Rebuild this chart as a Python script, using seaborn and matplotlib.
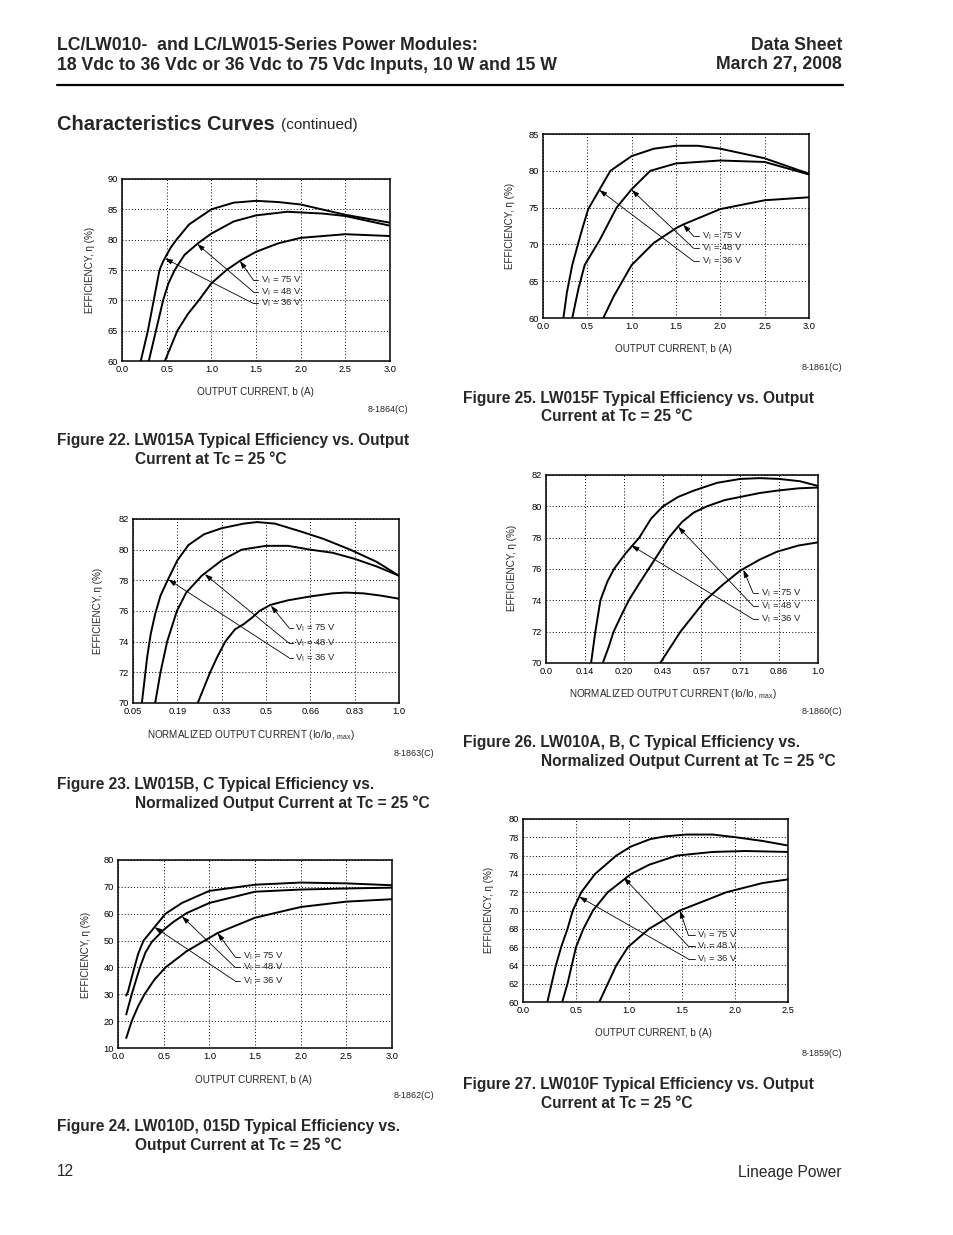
import matplotlib
matplotlib.use("Agg")
import matplotlib.pyplot as plt
import seaborn as sns
import pandas as pd
from matplotlib import font_manager

W, H = 954, 1235

# ---------------- values ----------------
volt_labels = ["75 V", "48 V", "36 V"]

# Figure 22 - LW015A, output current (A)
f22_x75 = [0.48, 0.55, 0.62, 0.74, 0.86, 1.0, 1.17, 1.33, 1.5, 1.75, 2.0, 2.5, 3.0]
f22_y75 = [60, 62.5, 65, 67.8, 70, 72.8, 75, 76.6, 78, 79.4, 80.3, 80.9, 80.6]
f22_x48 = [0.3, 0.38, 0.46, 0.52, 0.59, 0.7, 0.85, 1.0, 1.25, 1.5, 1.85, 2.25, 2.5, 3.0]
f22_y48 = [60, 65, 70, 72.8, 75, 77.5, 79.4, 81, 83, 84, 84.6, 84.3, 83.9, 82.3]
f22_x36 = [0.21, 0.29, 0.355, 0.42, 0.46, 0.5, 0.55, 0.61, 0.75, 1.0, 1.25, 1.5, 1.75, 2.0, 2.5, 3.0]
f22_y36 = [60, 65, 70, 75, 76.4, 77.5, 78.8, 80, 82.5, 85, 86.1, 86.4, 86.2, 85.8, 84.1, 82.8]

# Figure 25 - LW015F, output current (A)
f25_x75 = [0.68, 0.8, 1.0, 1.25, 1.5, 1.58, 2.0, 2.5, 3.0]
f25_y75 = [60, 63, 67.2, 70.2, 72.2, 72.7, 74.8, 76, 76.4]
f25_x48 = [0.33, 0.4, 0.47, 0.55, 0.64, 0.83, 1.0, 1.21, 1.5, 2.0, 2.5, 3.0]
f25_y48 = [60, 64, 67.2, 68.8, 70.6, 75, 77.5, 80, 81, 81.4, 81.2, 79.5]
f25_x36 = [0.23, 0.27, 0.33, 0.38, 0.44, 0.51, 0.635, 0.76, 1.0, 1.25, 1.5, 1.75, 2.0, 2.5, 3.0]
f25_y36 = [60, 63.5, 67.2, 69.4, 72, 74.8, 77.4, 80, 82, 83, 83.4, 83.4, 83, 81.7, 79.6]

# Figure 23 - LW015B, C, position along the normalized current axis
f23_ticks = ["0.05", "0.19", "0.33", "0.5", "0.66", "0.83", "1.0"]
f23_x75 = [1.46, 1.6, 1.74, 1.9, 2.08, 2.3, 2.5, 2.7, 2.85, 3.1, 3.5, 4.0, 4.5, 4.8, 5.2, 5.6, 6.0]
f23_y75 = [70, 71, 72, 73, 74, 74.8, 75.15, 75.6, 76, 76.4, 76.7, 76.95, 77.15, 77.2, 77.15, 77.0, 76.8]
f23_x48 = [0.5, 0.62, 0.77, 0.99, 1.2, 1.55, 2.0, 2.45, 3.0, 3.5, 4.0, 4.5, 5.0, 5.5, 6.0]
f23_y48 = [70, 72, 74, 76, 77.2, 78.3, 79.3, 80, 80.25, 80.25, 80.0, 79.8, 79.4, 78.9, 78.3]
f23_x36 = [0.2, 0.26, 0.32, 0.4, 0.5, 0.62, 0.78, 1.0, 1.25, 1.6, 2.0, 2.5, 2.8, 3.2, 3.77, 4.3, 4.9, 5.5, 6.0]
f23_y36 = [70, 71.5, 73, 74.5, 75.8, 77, 78, 79.3, 80.3, 81, 81.4, 81.7, 81.8, 81.7, 81.2, 80.7, 80, 79.2, 78.3]

# Figure 26 - LW010A, B, C, position along the normalized current axis
f26_ticks = ["0.0", "0.14", "0.20", "0.43", "0.57", "0.71", "0.86", "1.0"]
f26_x75 = [2.94, 3.2, 3.46, 3.78, 4.1, 4.55, 5.0, 5.5, 5.94, 6.5, 7.0]
f26_y75 = [70, 71, 72, 73, 74, 75, 75.9, 76.6, 77.1, 77.5, 77.7]
f26_x48 = [1.46, 1.61, 1.74, 1.93, 2.13, 2.38, 2.64, 2.9, 3.16, 3.5, 3.8, 4.14, 4.6, 5.0, 5.5, 5.94, 6.5, 7.0]
f26_y48 = [70, 71, 72, 73, 74, 75, 76, 77, 78, 79, 79.6, 80, 80.4, 80.6, 80.85, 81, 81.15, 81.2]
f26_x36 = [1.16, 1.27, 1.4, 1.58, 1.75, 2.05, 2.4, 2.7, 3.01, 3.4, 3.8, 4.4, 5.0, 5.5, 6.0, 6.54, 7.0]
f26_y36 = [70, 72, 74, 75.2, 76, 77, 78, 79.2, 80, 80.6, 81, 81.5, 81.75, 81.8, 81.75, 81.6, 81.3]

# Figure 24 - LW010D, 015D, output current (A)
f24_x75 = [0.09, 0.15, 0.22, 0.29, 0.4, 0.52, 0.75, 0.95, 1.09, 1.5, 2.0, 2.5, 3.0]
f24_y75 = [13.7, 20, 25.5, 30, 35.5, 40, 46, 50, 52.8, 58.5, 62.5, 64.5, 65.4]
f24_x48 = [0.09, 0.15, 0.24, 0.3, 0.37, 0.5, 0.6, 0.75, 1.0, 1.5, 2.0, 2.5, 3.0]
f24_y48 = [22.5, 30, 40, 45.5, 49.5, 54, 56.8, 60.2, 64, 68.2, 69, 69.4, 69.7]
f24_x36 = [0.09, 0.11, 0.14, 0.18, 0.22, 0.28, 0.4, 0.52, 0.7, 1.0, 1.5, 2.0, 2.5, 3.0]
f24_y36 = [29.5, 31, 35, 40, 45, 50, 55, 60, 64, 68.5, 70.8, 71.6, 71.3, 70.6]

# Figure 27 - LW010F, output current (A)
f27_x75 = [0.72, 0.8, 0.88, 0.99, 1.19, 1.48, 1.92, 2.26, 2.5]
f27_y75 = [60, 62, 64, 66, 68, 70, 72, 73, 73.4]
f27_x48 = [0.37, 0.42, 0.46, 0.5, 0.57, 0.66, 0.8, 1.02, 1.19, 1.45, 1.79, 2.1, 2.5]
f27_y48 = [60, 62, 64, 66, 68, 70, 72, 74, 75, 76, 76.4, 76.5, 76.4]
f27_x36 = [0.23, 0.27, 0.31, 0.36, 0.42, 0.47, 0.55, 0.68, 0.88, 1.02, 1.2, 1.34, 1.54, 1.79, 2.01, 2.26, 2.5]
f27_y36 = [60, 62, 64, 66, 68, 70, 72, 74, 76, 77, 77.8, 78.1, 78.3, 78.3, 78.0, 77.6, 77.1]

# callout arrow tips (75 V, 48 V, 36 V) and label rows
f22_tips = [(1.32, 76.5), (0.84, 79.3), (0.48, 76.9)]
f22_label_y = [73.35, 71.4, 69.5]
f25_tips = [(1.58, 72.7), (1.0, 77.4), (0.635, 77.4)]
f25_label_y = [71.1, 69.45, 67.7]
f23_tips = [(3.11, 76.35), (1.62, 78.4), (0.8, 78.05)]
f23_label_y = [74.9, 73.9, 72.95]
f26_tips = [(5.08, 75.95), (3.4, 78.7), (2.2, 77.5)]
f26_label_y = [74.47, 73.64, 72.8]
f24_tips = [(1.09, 52.8), (0.7, 59.0), (0.4, 55.0)]
f24_label_y = [44.0, 40.1, 35.0]
f27_tips = [(1.48, 70.0), (0.95, 73.6), (0.53, 71.5)]
f27_label_y = [67.3, 66.1, 64.7]

# ---------------- fonts ----------------
sns.set_style("white")
installed = {f.name for f in font_manager.fontManager.ttflist}
HEAD_FONT = "Liberation Sans Narrow" if "Liberation Sans Narrow" in installed else "Liberation Sans"
plt.rcParams["font.family"] = ["Liberation Sans", "DejaVu Sans"]
plt.rcParams["mathtext.fontset"] = "custom"
plt.rcParams["mathtext.rm"] = "Liberation Sans"

fig = plt.figure(figsize=(W / 100, H / 100), dpi=100)
renderer = fig.canvas.get_renderer()


def fit_size(text, width_px, family, weight="normal", base=10.0):
    t = fig.text(0, 0, text, fontsize=base, family=family, fontweight=weight)
    w = t.get_window_extent(renderer).width
    t.remove()
    return base * width_px / w


def put(x, y, text, **kw):
    return fig.text(x / W, 1 - y / H, text, **kw)


def add_panel(left, top, right, bottom):
    return fig.add_axes([left / W, 1 - bottom / H, (right - left) / W, (bottom - top) / H])


def draw_curves(ax, xs_list, ys_list):
    frames = []
    for lab, xs, ys in zip(volt_labels, xs_list, ys_list):
        frames.append(pd.DataFrame({"vin": lab, "io": xs, "eff": ys}))
    df = pd.concat(frames, ignore_index=True)
    sns.lineplot(data=df, x="io", y="eff", units="vin", estimator=None, sort=False,
                 color="black", lw=1.4, ax=ax, legend=False)


def style_axes(ax, xlim, ylim, xticks, xticklabels, yticks):
    ax.set_xlim(xlim)
    ax.set_ylim(ylim)
    ax.set_xticks(xticks)
    ax.set_xticklabels(xticklabels)
    ax.set_yticks(yticks)
    ax.grid(True, color="black", linestyle=(0, (1, 2.2)), linewidth=0.7)
    ax.tick_params(length=0, labelsize=6.7, pad=3, colors="black")
    for s in ax.spines.values():
        s.set_visible(True)
        s.set_color("black")
        s.set_linewidth(1.1)
    ax.set_xlabel("")
    ax.set_ylabel("")


def draw_callouts(ax, tips, label_ys, corner_x, text_x):
    for lab, (tx, ty), ly in zip(volt_labels, tips, label_ys):
        ax.annotate("", xy=(tx, ty), xytext=(corner_x, ly),
                    arrowprops=dict(arrowstyle="-|>,head_length=0.45,head_width=0.15",
                                    color="black", lw=0.6, shrinkA=0, shrinkB=0))
        ax.plot([corner_x, text_x], [ly, ly], color="black", lw=0.6)
        ax.annotate("V$_\\mathregular{I}$ = " + lab, xy=(text_x, ly), xytext=(2, 0),
                    textcoords="offset points", va="center", ha="left", fontsize=6.8)


ax_label_size = fit_size("OUTPUT CURRENT, b (A)", 117, "Liberation Sans")
code_size = ax_label_size * 0.92


def labels(xl, xl_pos, yl_pos, code, code_pos):
    put(xl_pos[0], xl_pos[1], xl, ha="center", va="center", fontsize=ax_label_size)
    put(yl_pos[0], yl_pos[1], "EFFICIENCY, \u03b7 (%)", ha="center", va="center",
        rotation=90, fontsize=ax_label_size)
    put(code_pos[0], code_pos[1], code, ha="right", va="center", fontsize=code_size)


amp_ticks = [0.0, 0.5, 1.0, 1.5, 2.0, 2.5, 3.0]
amp_labels = ["0.0", "0.5", "1.0", "1.5", "2.0", "2.5", "3.0"]
norm_label = "NORMALIZED OUTPUT CURRENT (Io/Io, $\\mathregular{_{max}}$)"
amp_label = "OUTPUT CURRENT, b (A)"

# Figure 22
ax = add_panel(122, 179, 390, 361)
draw_curves(ax, [f22_x75, f22_x48, f22_x36], [f22_y75, f22_y48, f22_y36])
style_axes(ax, (0, 3), (60, 90), amp_ticks, amp_labels, range(60, 91, 5))
draw_callouts(ax, f22_tips, f22_label_y, 1.47, 1.52)
labels(amp_label, (255, 392), (90, 270), "8-1864(C)", (408, 409))

# Figure 25
ax = add_panel(543, 134, 809, 318)
draw_curves(ax, [f25_x75, f25_x48, f25_x36], [f25_y75, f25_y48, f25_y36])
style_axes(ax, (0, 3), (60, 85), amp_ticks, amp_labels, range(60, 86, 5))
draw_callouts(ax, f25_tips, f25_label_y, 1.7, 1.76)
labels(amp_label, (673, 349), (510, 226), "8-1861(C)", (842, 368))

# Figure 23
ax = add_panel(133, 519, 399, 703)
draw_curves(ax, [f23_x75, f23_x48, f23_x36], [f23_y75, f23_y48, f23_y36])
style_axes(ax, (0, 6), (70, 82), range(len(f23_ticks)), f23_ticks, range(70, 83, 2))
draw_callouts(ax, f23_tips, f23_label_y, 3.52, 3.6)
labels(norm_label, (251, 735), (98, 611), "8-1863(C)", (434, 753))

# Figure 26
ax = add_panel(546, 475, 818, 663)
draw_curves(ax, [f26_x75, f26_x48, f26_x36], [f26_y75, f26_y48, f26_y36])
style_axes(ax, (0, 7), (70, 82), range(len(f26_ticks)), f26_ticks, range(70, 83, 2))
draw_callouts(ax, f26_tips, f26_label_y, 5.33, 5.45)
labels(norm_label, (673, 694), (512, 568), "8-1860(C)", (842, 712))

# Figure 24
ax = add_panel(118, 860, 392, 1048)
draw_curves(ax, [f24_x75, f24_x48, f24_x36], [f24_y75, f24_y48, f24_y36])
style_axes(ax, (0, 3), (10, 80), amp_ticks, amp_labels, range(10, 81, 10))
draw_callouts(ax, f24_tips, f24_label_y, 1.28, 1.34)
labels(amp_label, (253, 1080), (86, 955), "8-1862(C)", (434, 1096))

# Figure 27
ax = add_panel(523, 819, 788, 1002)
draw_curves(ax, [f27_x75, f27_x48, f27_x36], [f27_y75, f27_y48, f27_y36])
style_axes(ax, (0, 2.5), (60, 80), amp_ticks[:6], amp_labels[:6], range(60, 81, 2))
draw_callouts(ax, f27_tips, f27_label_y, 1.56, 1.62)
labels(amp_label, (653, 1033), (489, 910), "8-1859(C)", (842, 1053))

# ---------------- page text ----------------
head_size = fit_size("18 Vdc to 36 Vdc or 36 Vdc to 75 Vdc Inputs, 10 W and 15 W", 499, HEAD_FONT, "bold")
put(57, 45, "LC/LW010-  and LC/LW015-Series Power Modules:", fontsize=head_size,
    family=HEAD_FONT, fontweight="bold", va="center")
put(57, 65, "18 Vdc to 36 Vdc or 36 Vdc to 75 Vdc Inputs, 10 W and 15 W", fontsize=head_size,
    family=HEAD_FONT, fontweight="bold", va="center")
put(842, 45, "Data Sheet", fontsize=head_size, family=HEAD_FONT, fontweight="bold",
    va="center", ha="right")
put(842, 65, "March 27, 2008", fontsize=head_size, family=HEAD_FONT, fontweight="bold",
    va="center", ha="right")
fig.add_artist(plt.Line2D([57 / W, 843 / W], [1 - 85 / H, 1 - 85 / H], color="black", lw=1.6))

sec_size = fit_size("Characteristics Curves", 218, HEAD_FONT, "bold")
put(57, 124, "Characteristics Curves", fontsize=sec_size, family=HEAD_FONT,
    fontweight="bold", va="center")
cont_size = fit_size("(continued)", 77, HEAD_FONT)
put(281, 125, "(continued)", fontsize=cont_size, family=HEAD_FONT, va="center")

cap_size = fit_size("Figure 22. LW015A Typical Efficiency vs. Output", 354, HEAD_FONT, "bold")
captions = [
    ((57, 440), "Figure 22. LW015A Typical Efficiency vs. Output", (135, 459), "Current at Tc = 25 \u00b0C"),
    ((463, 399), "Figure 25. LW015F Typical Efficiency vs. Output", (541, 417), "Current at Tc = 25 \u00b0C"),
    ((57, 784), "Figure 23. LW015B, C Typical Efficiency vs.", (135, 803), "Normalized Output Current at Tc = 25 \u00b0C"),
    ((463, 742), "Figure 26. LW010A, B, C Typical Efficiency vs.", (541, 761), "Normalized Output Current at Tc = 25 \u00b0C"),
    ((57, 1127), "Figure 24. LW010D, 015D Typical Efficiency vs.", (135, 1145), "Output Current at Tc = 25 \u00b0C"),
    ((463, 1084), "Figure 27. LW010F Typical Efficiency vs. Output", (541, 1103), "Current at Tc = 25 \u00b0C"),
]
for p1, t1, p2, t2 in captions:
    put(p1[0], p1[1], t1, fontsize=cap_size, family=HEAD_FONT, fontweight="bold", va="center")
    put(p2[0], p2[1], t2, fontsize=cap_size, family=HEAD_FONT, fontweight="bold", va="center")

foot_size = fit_size("Lineage Power", 104, HEAD_FONT)
put(57, 1172, "12", fontsize=foot_size, family=HEAD_FONT, va="center")
put(842, 1172, "Lineage Power", fontsize=foot_size, family=HEAD_FONT, va="center", ha="right")

fig.savefig("out.png", dpi=100, facecolor="white")
